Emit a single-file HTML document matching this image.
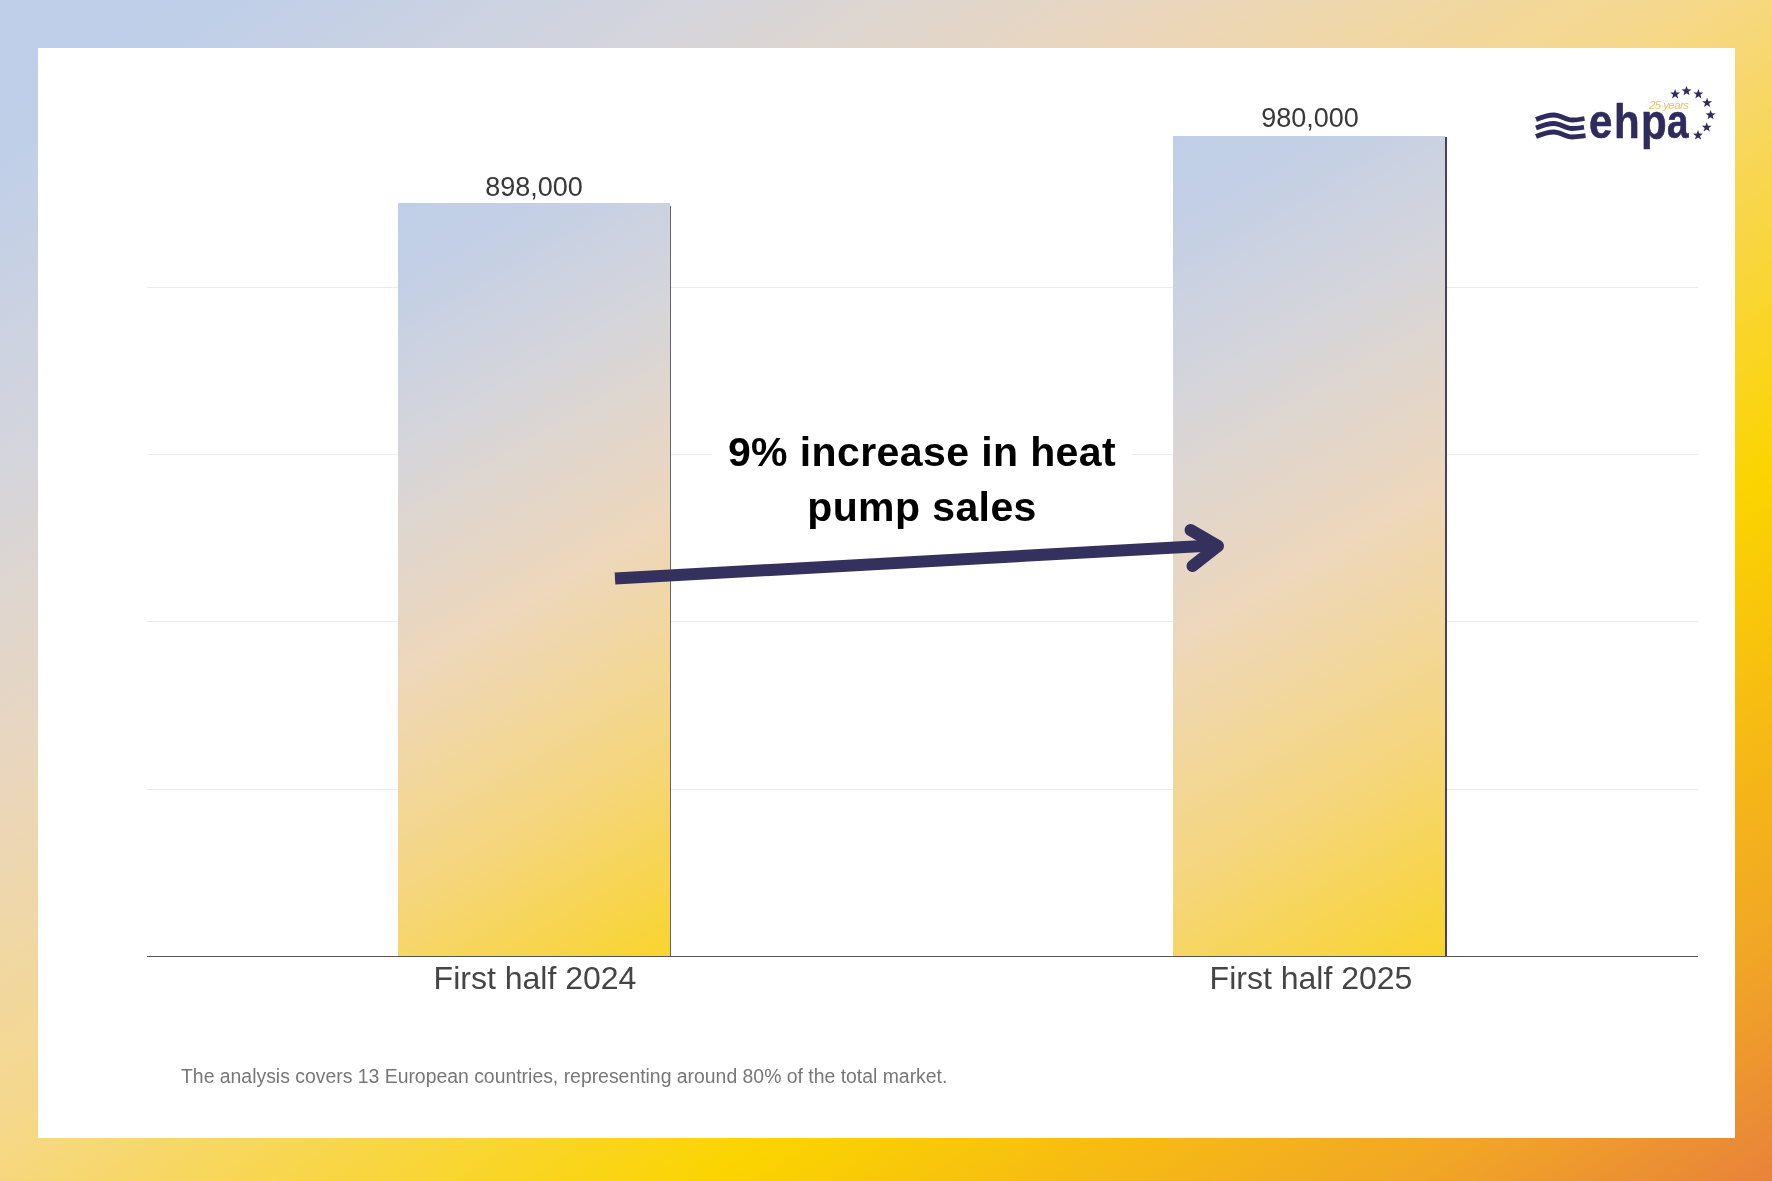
<!DOCTYPE html>
<html><head><meta charset="utf-8">
<style>
html,body{margin:0;padding:0;}
.val,.cat,#note,#title,svg{will-change:transform;}
body{width:1772px;height:1181px;position:relative;overflow:hidden;font-family:"Liberation Sans",sans-serif;
background:linear-gradient(to bottom right,#bfcfe9 0%,#c0cfe8 7%,#d5d5dc 20%,#ead6bd 33%,#f6d88a 48%,#fbd400 70%,#f6b915 81%,#f1a626 90%,#e8823a 100%);}
#panel{position:absolute;left:38px;top:48px;width:1697px;height:1090px;background:#fff;}
.grid{position:absolute;left:147px;width:1551px;height:1px;background:#ececec;}
.bar{position:absolute;width:272px;background:linear-gradient(150deg,#c0cfe8 0%,#c2cfe6 8%,#d5d5db 27%,#eed7bb 52%,#f5d680 76%,#f9d42e 100%);}
.bar::after{content:"";position:absolute;right:-1px;top:3px;bottom:0;width:1px;background:#676470;}
.bar2::after{right:-2px;width:2px;top:1px;background:#48425a;}
#axis{position:absolute;left:147px;top:956px;width:1551px;height:1px;background:#555;}
.val{position:absolute;font-size:27px;color:#383838;white-space:nowrap;text-align:center;width:272px;}
.cat{position:absolute;font-size:32px;color:#454545;white-space:nowrap;text-align:center;width:400px;}
#note{position:absolute;left:181px;top:1065.2px;font-size:19.4px;color:#777;white-space:nowrap;}
#title{position:absolute;left:712px;top:425px;width:420px;background:#fff;text-align:center;font-weight:bold;font-size:41px;line-height:55px;color:#000;letter-spacing:0.4px;white-space:nowrap;}
svg{position:absolute;left:0;top:0;}
</style></head>
<body>
<div id="panel"></div>
<div class="grid" style="top:287px"></div>
<div class="grid" style="top:454px"></div>
<div class="grid" style="top:621px"></div>
<div class="grid" style="top:789px"></div>
<div class="bar" style="left:398px;top:203px;height:753px"></div>
<div class="bar bar2" style="left:1173px;top:136px;height:820px"></div>
<div id="axis"></div>
<div class="val" style="left:398px;top:172px">898,000</div>
<div class="val" style="left:1174px;top:103px">980,000</div>
<div class="cat" style="left:335px;top:960px">First half 2024</div>
<div class="cat" style="left:1111px;top:960px">First half 2025</div>
<div id="title">9% increase in heat<br>pump sales</div>
<div id="note">The analysis covers 13 European countries, representing around 80% of the total market.</div>
<svg width="1772" height="1181" viewBox="0 0 1772 1181">
  <path d="M615 578.5 L1212 545.5" stroke="#35315f" stroke-width="12" fill="none"/>
  <path d="M1190.5 530 L1218 546 L1192.5 566" stroke="#35315f" stroke-width="12" fill="none" stroke-linecap="round" stroke-linejoin="round"/>
  <g id="logo" fill="#2f2b5d">
    <path d="M1675.10,89.00 L1676.36,92.46 L1680.05,92.59 L1677.14,94.86 L1678.16,98.41 L1675.10,96.35 L1672.04,98.41 L1673.06,94.86 L1670.15,92.59 L1673.84,92.46Z M1686.50,85.80 L1687.76,89.26 L1691.45,89.39 L1688.54,91.66 L1689.56,95.21 L1686.50,93.15 L1683.44,95.21 L1684.46,91.66 L1681.55,89.39 L1685.24,89.26Z M1698.40,89.00 L1699.66,92.46 L1703.35,92.59 L1700.44,94.86 L1701.46,98.41 L1698.40,96.35 L1695.34,98.41 L1696.36,94.86 L1693.45,92.59 L1697.14,92.46Z M1707.10,97.70 L1708.36,101.16 L1712.05,101.29 L1709.14,103.56 L1710.16,107.11 L1707.10,105.05 L1704.04,107.11 L1705.06,103.56 L1702.15,101.29 L1705.84,101.16Z M1710.60,109.90 L1711.86,113.36 L1715.55,113.49 L1712.64,115.76 L1713.66,119.31 L1710.60,117.25 L1707.54,119.31 L1708.56,115.76 L1705.65,113.49 L1709.34,113.36Z M1706.70,122.20 L1707.96,125.66 L1711.65,125.79 L1708.74,128.06 L1709.76,131.61 L1706.70,129.55 L1703.64,131.61 L1704.66,128.06 L1701.75,125.79 L1705.44,125.66Z M1698.00,130.10 L1699.26,133.56 L1702.95,133.69 L1700.04,135.96 L1701.06,139.51 L1698.00,137.45 L1694.94,139.51 L1695.96,135.96 L1693.05,133.69 L1696.74,133.56Z"/>
    <g fill="none" stroke="#2f2b5d" stroke-width="4.8">
      <path d="M1536 119.5 C1542 117 1548 115 1554 115 S1566 120 1572 120 S1581 119.2 1584.5 118.5"/>
      <path d="M1536 128 C1542 125.5 1548 123.5 1554 123.5 S1566 128.5 1572 128.5 S1581 127.7 1584 127.2"/>
      <path d="M1536 136.5 C1542 134 1548 132 1554 132 S1566 137 1572 137 S1581 136.2 1585.5 135.7"/>
    </g>
    <g transform="translate(0,137.5) scale(1,1.147)" font-family="Liberation Sans" font-weight="bold" font-size="42" stroke="#2f2b5d" stroke-width="0.5">
      <text x="1589" y="0">e</text>
      <text x="1614" y="0">h</text>
      <text x="1641" y="0" transform="translate(0,1) scale(1,1.03)">p</text>
      <text x="1667" y="0" textLength="21.5" lengthAdjust="spacingAndGlyphs">a</text>
    </g>
    <text x="1649" y="108.7" font-family="Liberation Sans" font-style="italic" font-size="11.5" fill="#e9bf6a" letter-spacing="-0.6">25 years</text>
  </g>
</svg>
</body></html>
